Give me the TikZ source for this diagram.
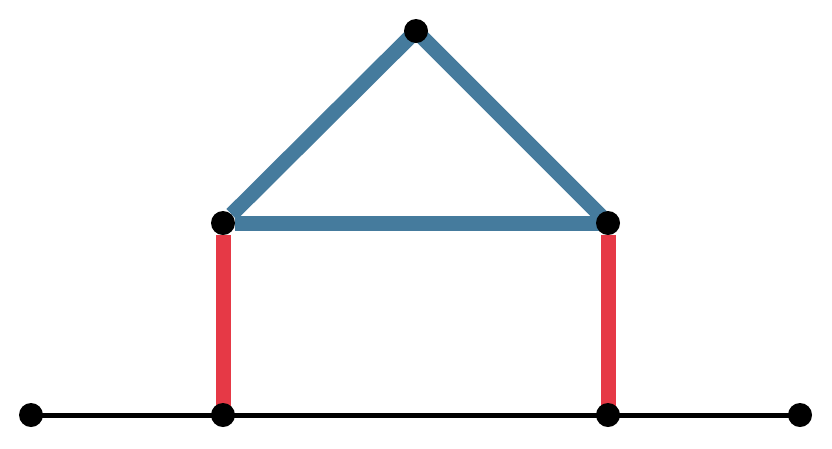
\documentclass[tikz,border=0pt]{standalone}
\definecolor{roofblue}{HTML}{457B9D}
\definecolor{wallred}{HTML}{E63946}
\tikzset{
  dot/.style={circle,fill=black,inner sep=0pt,minimum size=24pt},
  roof/.style={draw=roofblue,line width=15pt},
  wall/.style={draw=wallred,line width=15pt},
  ground/.style={draw=black,line width=5pt}
}
\begin{document}
\begin{tikzpicture}[x=1pt,y=-1pt]
\useasboundingbox (0,0) rectangle (832,448);
\coordinate (ptop) at (416,31);
\coordinate (pml) at (223,223);
\coordinate (pmr) at (608,223);
\coordinate (pb1) at (31,415);
\coordinate (pb2) at (223,415);
\coordinate (pb3) at (608,415);
\coordinate (pb4) at (800,415);
% invisible nodes used for border-shortened line starts
\node[dot,fill=none] (ml) at (pml) {};
\node[dot,fill=none] (mr) at (pmr) {};
\draw[ground] (pb1) -- (pb2) -- (pb3) -- (pb4);
\draw[wall] (ml) -- (pb2);
\draw[wall] (mr) -- (pb3);
\draw[roof] (ml) -- (ptop);
\draw[roof] (ptop) -- (pmr);
\draw[roof] (ml) -- (pmr);
\node[dot] (top) at (ptop) {};
\node[dot] (l) at (pml) {};
\node[dot] (r) at (pmr) {};
\node[dot] (b1) at (pb1) {};
\node[dot] (b2) at (pb2) {};
\node[dot] (b3) at (pb3) {};
\node[dot] (b4) at (pb4) {};
\end{tikzpicture}
\end{document}
